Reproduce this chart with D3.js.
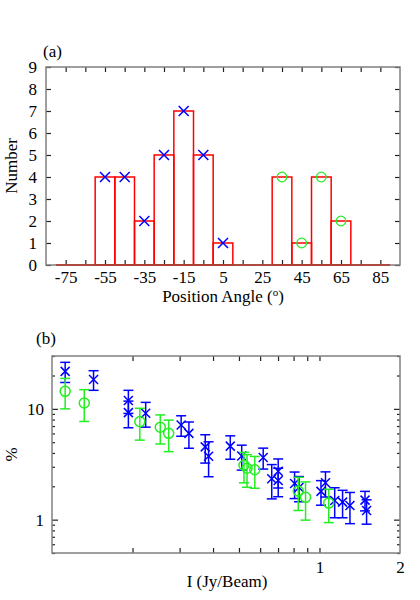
<!DOCTYPE html>
<html>
<head>
<meta charset="utf-8">
<script src="https://cdn.jsdelivr.net/npm/d3@7"></script>
<style>
  body { margin: 0; background: #fff; }
  svg text { font-family: "Liberation Serif", "Times New Roman", serif; font-size: 17px; fill: #000; }
</style>
</head>
<body>
<script>
// ---- panel (a): histogram of position angles ----
var binCenters = [-75, -65, -55, -45, -35, -25, -15, -5, 5, 15, 25, 35, 45, 55, 65, 75, 85];
var binCounts  = [0, 0, 4, 4, 2, 5, 7, 5, 1, 0, 0, 4, 1, 4, 2, 0, 0];
var crossAngles = [-55, -45, -35, -25, -15, -5, 5];
var crossCounts = [4, 4, 2, 5, 7, 5, 1];
var circleAngles = [35, 45, 55, 65];
var circleCounts = [4, 1, 4, 2];
var angleTicks = [-75, -55, -35, -15, 5, 25, 45, 65, 85];
var countTicks = [0, 1, 2, 3, 4, 5, 6, 7, 8, 9];

// ---- panel (b): percentage vs intensity ----
var blueI   = [0.112, 0.143, 0.193, 0.193, 0.224, 0.304, 0.325, 0.374, 0.385, 0.464, 0.512, 0.616, 0.663, 0.701, 0.701, 0.807, 0.838, 1.013, 1.053, 1.14, 1.22, 1.30, 1.48, 1.50];
var blueP   = [21.8, 18.4, 11.9, 9.25, 9.14, 7.16, 6.01, 4.54, 3.74, 4.61, 3.75, 3.64, 2.34, 2.73, 2.26, 2.12, 1.95, 1.80, 2.15, 1.49, 1.44, 1.34, 1.50, 1.21];
var blueErr = [4.5, 3.7, 2.8, 2.5, 2.3, 1.5, 1.6, 1.3, 1.3, 1.1, 0.95, 0.78, 0.8, 0.8, 0.65, 0.57, 0.5, 0.45, 0.55, 0.45, 0.4, 0.42, 0.3, 0.3];
var greenI   = [0.112, 0.132, 0.213, 0.254, 0.273, 0.522, 0.536, 0.573, 0.833, 0.887, 1.083];
var greenP   = [14.4, 11.3, 7.67, 6.82, 6.01, 3.10, 2.91, 2.82, 1.81, 1.59, 1.41];
var greenErr = [4.4, 3.6, 2.45, 2.0, 1.9, 0.95, 0.95, 0.9, 0.6, 0.6, 0.47];
var iLabelTicks = [1, 2];
var iMinorTicks = [0.2, 0.3, 0.4, 0.5, 0.6, 0.7, 0.8, 0.9, 1];
var pLabelTicks = [1, 10];
var pMinorTicks = [0.5, 0.6, 0.7, 0.8, 0.9, 2, 3, 4, 5, 6, 7, 8, 9, 20, 30];

var RED = "#ff0000", BLUE = "#0000ff", GREEN = "#22ee22", FRAME = "#808080", TICK = "#222";
var FONT = '"Liberation Serif", "Times New Roman", serif';

var svg = d3.select("body").append("svg")
    .attr("width", 420)
    .attr("height", 600);

function crossPath(s) {
  return "M" + (-s) + "," + (-s) + "L" + s + "," + s + "M" + (-s) + "," + s + "L" + s + "," + (-s);
}

// plain hyphen minus like the original, not the unicode one d3 uses
function plain(d) { return String(d); }

function styleTicks(g) {
  g.select(".domain").remove();
  g.selectAll(".tick line").attr("stroke", TICK).attr("stroke-width", 1.2);
  g.selectAll(".tick text").attr("fill", "#000").style("font-size", "17px").style("font-family", FONT);
}

// ================= panel (a) =================
var a = {left: 46, right: 400, top: 67, bottom: 265};
var xa = d3.scaleLinear().domain([-85, 95]).range([a.left, a.right]);
var ya = d3.scaleLinear().domain([0, 9]).range([a.bottom, a.top]);
var ga = svg.append("g");

// histogram boxes (zero bins collapse to a line on the baseline)
ga.selectAll("rect.bin")
    .data(binCenters)
  .enter().append("rect")
    .attr("class", "bin")
    .attr("x", function(d) { return xa(d - 5); })
    .attr("width", function(d) { return xa(d + 5) - xa(d - 5); })
    .attr("y", function(d, i) { return ya(binCounts[i]); })
    .attr("height", function(d, i) { return ya(0) - ya(binCounts[i]); })
    .attr("fill", "none")
    .attr("stroke", RED)
    .attr("stroke-width", 1.5);

// ticks (inward)
ga.append("g")
    .attr("transform", "translate(0," + a.bottom + ")")
    .call(d3.axisBottom(xa).tickValues(angleTicks).tickSize(0).tickPadding(6).tickFormat(plain))
    .call(styleTicks);
ga.append("g")
    .attr("transform", "translate(0," + a.bottom + ")")
    .call(d3.axisBottom(xa).tickValues(d3.range(-75, 86, 10)).tickSize(-5).tickFormat(""))
    .call(styleTicks);
ga.append("g")
    .attr("transform", "translate(0," + a.top + ")")
    .call(d3.axisTop(xa).tickValues(d3.range(-75, 86, 10)).tickSize(-5).tickFormat(""))
    .call(styleTicks);
ga.append("g")
    .attr("transform", "translate(" + a.left + ",0)")
    .call(d3.axisLeft(ya).tickValues(countTicks).tickSize(-5).tickPadding(9).tickFormat(plain))
    .call(styleTicks);
ga.append("g")
    .attr("transform", "translate(" + a.right + ",0)")
    .call(d3.axisRight(ya).tickValues(countTicks).tickSize(-5).tickFormat(""))
    .call(styleTicks);

// frame
ga.append("rect")
    .attr("x", a.left).attr("y", a.top)
    .attr("width", a.right - a.left).attr("height", a.bottom - a.top)
    .attr("fill", "none").attr("stroke", FRAME).attr("stroke-width", 1.5);

// red baseline over the histogram range
ga.append("line")
    .attr("x1", xa(-80)).attr("x2", xa(90))
    .attr("y1", ya(0)).attr("y2", ya(0))
    .attr("stroke", "#b03020").attr("stroke-width", 1.5);

// markers
ga.selectAll("path.cross")
    .data(crossAngles)
  .enter().append("path")
    .attr("class", "cross")
    .attr("transform", function(d, i) { return "translate(" + xa(d) + "," + ya(crossCounts[i]) + ")"; })
    .attr("d", crossPath(5))
    .attr("stroke", BLUE).attr("stroke-width", 1.5).attr("fill", "none");
ga.selectAll("circle.mk")
    .data(circleAngles)
  .enter().append("circle")
    .attr("class", "mk")
    .attr("cx", function(d) { return xa(d); })
    .attr("cy", function(d, i) { return ya(circleCounts[i]); })
    .attr("r", 4.8)
    .attr("stroke", GREEN).attr("stroke-width", 1.3).attr("fill", "none");

// labels
svg.append("text").attr("x", 43).attr("y", 57).text("(a)");
svg.append("text")
    .attr("transform", "translate(17," + ((a.top + a.bottom) / 2) + ") rotate(-90)")
    .attr("text-anchor", "middle")
    .text("Number");
var xla = svg.append("text")
    .attr("x", (a.left + a.right) / 2).attr("y", 302)
    .attr("text-anchor", "middle");
xla.append("tspan").text("Position Angle (");
xla.append("tspan").attr("dy", -6).style("font-size", "11px").text("o");
xla.append("tspan").attr("dy", 6).text(")");

// ================= panel (b) =================
var b = {left: 52, right: 400, top: 356, bottom: 553};
var xb = d3.scaleLog().domain([0.1, 2]).range([b.left, b.right]);
var yb = d3.scaleLog().domain([0.5, 30]).range([b.bottom, b.top]);
var gb = svg.append("g");

// ticks (inward)
gb.append("g")
    .attr("transform", "translate(0," + b.bottom + ")")
    .call(d3.axisBottom(xb).tickValues(iLabelTicks).tickSize(0).tickPadding(8).tickFormat(plain))
    .call(styleTicks);
gb.append("g")
    .attr("transform", "translate(0," + b.bottom + ")")
    .call(d3.axisBottom(xb).tickValues(iMinorTicks).tickSize(-5).tickFormat(""))
    .call(styleTicks);
gb.append("g")
    .attr("transform", "translate(0," + b.top + ")")
    .call(d3.axisTop(xb).tickValues(iMinorTicks).tickSize(-5).tickFormat(""))
    .call(styleTicks);
gb.append("g")
    .attr("transform", "translate(" + b.left + ",0)")
    .call(d3.axisLeft(yb).tickValues(pLabelTicks).tickSize(-6).tickPadding(8).tickFormat(plain))
    .call(styleTicks);
gb.append("g")
    .attr("transform", "translate(" + b.left + ",0)")
    .call(d3.axisLeft(yb).tickValues(pMinorTicks).tickSize(-3).tickFormat(""))
    .call(styleTicks);
gb.append("g")
    .attr("transform", "translate(" + b.right + ",0)")
    .call(d3.axisRight(yb).tickValues(pLabelTicks).tickSize(-6).tickFormat(""))
    .call(styleTicks);
gb.append("g")
    .attr("transform", "translate(" + b.right + ",0)")
    .call(d3.axisRight(yb).tickValues(pMinorTicks).tickSize(-3).tickFormat(""))
    .call(styleTicks);

gb.append("rect")
    .attr("x", b.left).attr("y", b.top)
    .attr("width", b.right - b.left).attr("height", b.bottom - b.top)
    .attr("fill", "none").attr("stroke", FRAME).attr("stroke-width", 1.5);

// error bars + markers
function drawSeries(xs, ys, es, color, marker) {
  var g = gb.append("g").attr("stroke", color).attr("stroke-width", 1.5).attr("fill", "none");
  var pts = g.selectAll("g.pt")
      .data(xs)
    .enter().append("g")
      .attr("class", "pt")
      .attr("transform", function(d) { return "translate(" + xb(d) + ",0)"; });
  pts.append("line")
      .attr("y1", function(d, i) { return yb(ys[i] - es[i]); })
      .attr("y2", function(d, i) { return yb(ys[i] + es[i]); });
  pts.append("line")
      .attr("x1", -5).attr("x2", 5)
      .attr("y1", function(d, i) { return yb(ys[i] - es[i]); })
      .attr("y2", function(d, i) { return yb(ys[i] - es[i]); });
  pts.append("line")
      .attr("x1", -5).attr("x2", 5)
      .attr("y1", function(d, i) { return yb(ys[i] + es[i]); })
      .attr("y2", function(d, i) { return yb(ys[i] + es[i]); });
  if (marker === "cross") {
    pts.append("path")
        .attr("transform", function(d, i) { return "translate(0," + yb(ys[i]) + ")"; })
        .attr("d", crossPath(4.5));
  } else {
    pts.append("circle")
        .attr("cy", function(d, i) { return yb(ys[i]); })
        .attr("r", 5);
  }
}
drawSeries(blueI, blueP, blueErr, BLUE, "cross");
drawSeries(greenI, greenP, greenErr, GREEN, "circle");

svg.append("text").attr("x", 36).attr("y", 344).text("(b)");
svg.append("text")
    .attr("transform", "translate(17," + ((b.top + b.bottom) / 2) + ") rotate(-90)")
    .attr("text-anchor", "middle")
    .text("%");
svg.append("text")
    .attr("x", 227).attr("y", 587)
    .attr("text-anchor", "middle")
    .text("I (Jy/Beam)");
</script>
</body>
</html>
